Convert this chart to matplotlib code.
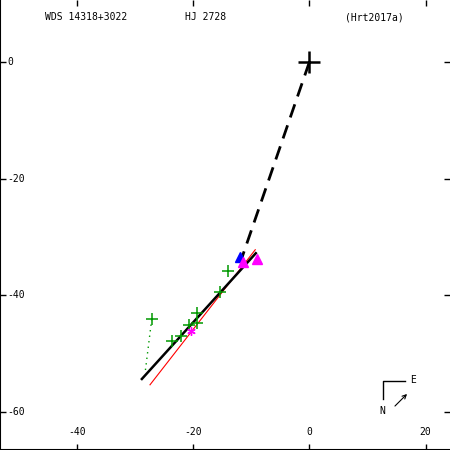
#Orbit plot for WDS 14318+3022 (HJ 2728)
import numpy as np
import matplotlib
matplotlib.use("Agg")
import matplotlib.pyplot as plt

# STEP 1: data (arcsec-ish offsets)

obs_x = [-27.1, -13.9, -15.3, -19.4, -19.4, -20.7, -22.1, -23.6]  # green + observations
obs_y = [-44.1, -35.9, -39.4, -43.1, -44.7, -45.1, -47.1, -47.9]
resid_x = [-27.1, -28.2]   # dotted residual from the outlier
resid_y = [-44.1, -53.0]

fit_x = [-28.8, -9.2]   # thick black fit line
fit_y = [-54.4, -32.8]
red_x = [-27.4, -9.3]   # thin red line
red_y = [-55.4, -32.2]

dash_x = [0, -11.6]     # dashed line from primary
dash_y = [0, -33.6]

mag_star_x, mag_star_y = [-20.3], [-46.1]
mag_tri_x = [-9.0, -11.4]
mag_tri_y = [-33.8, -34.3]
blue_x, blue_y = [-11.9], [-33.4]

xticks = [-40, -20, 0, 20]
yticks = [0, -20, -40, -60]
titles = ["WDS 14318+3022", "HJ 2728", "(Hrt2017a)"]

# STEP 2: plot

plt.rcParams["font.family"] = "DejaVu Sans Mono"
fig = plt.figure(figsize=(4.5, 4.5), dpi=100)
ax = fig.add_axes([0, 0, 1, 1])
ax.set_xlim(-53.2, 24.2)
ax.set_ylim(-66.6, 10.7)

ax.plot(dash_x, dash_y, color="black", lw=2, ls=(0, (5, 3)))
ax.plot(red_x, red_y, color="red", lw=0.8)
ax.plot(fit_x, fit_y, color="black", lw=1.8)
ax.plot(resid_x, resid_y, color="#009900", lw=1, ls=(0, (1, 3)))
ax.plot(obs_x, obs_y, "+", color="#009900", ms=8, mew=1.1)
ax.plot(blue_x, blue_y, "^", color="blue", ms=7)
ax.plot(mag_tri_x, mag_tri_y, "^", color="#ff00ff", ms=7)
ax.plot(mag_star_x, mag_star_y, marker=(6, 2, 0), color="#ff00ff", ms=6, mew=1, ls="none")
ax.plot([0], [0], "+", color="black", ms=16, mew=1.8)

# ticks inside, labels drawn by hand inside the frame
ax.set_xticks(xticks)
ax.set_yticks(yticks)
ax.set_xticklabels([])
ax.set_yticklabels([])
ax.tick_params(direction="in", length=4, width=1, top=True, right=True)
ax.spines["top"].set_visible(False)
ax.spines["right"].set_visible(False)
ax.spines["left"].set_linewidth(1.5)
ax.spines["bottom"].set_linewidth(1.5)

for t in xticks:
    ax.text(t, 0.04, str(t), transform=ax.get_xaxis_transform(),
            ha="center", va="center", fontsize=7)
for t in yticks:
    ax.text(0.016, t, str(t), transform=ax.get_yaxis_transform(),
            ha="left", va="center", fontsize=7)

for xpos, s in zip([86 / 450, 206 / 450, 374 / 450], titles):
    fig.text(xpos, 1 - 17 / 450, s, ha="center", va="center", fontsize=7)

# compass
fig.add_artist(plt.Line2D([383 / 450, 383 / 450, 405 / 450],
                          [1 - 399 / 450, 1 - 381 / 450, 1 - 381 / 450],
                          color="black", lw=1))
fig.text(413 / 450, 1 - 380 / 450, "E", ha="center", va="center", fontsize=7)
fig.text(382 / 450, 1 - 411 / 450, "N", ha="center", va="center", fontsize=7)
fig.add_artist(matplotlib.patches.FancyArrowPatch((393 / 450, 1 - 408 / 450), (409 / 450, 1 - 392 / 450),
                                                  transform=fig.transFigure, arrowstyle="->",
                                                  mutation_scale=7, lw=0.8, color="black"))

fig.savefig("out.png", dpi=100)
